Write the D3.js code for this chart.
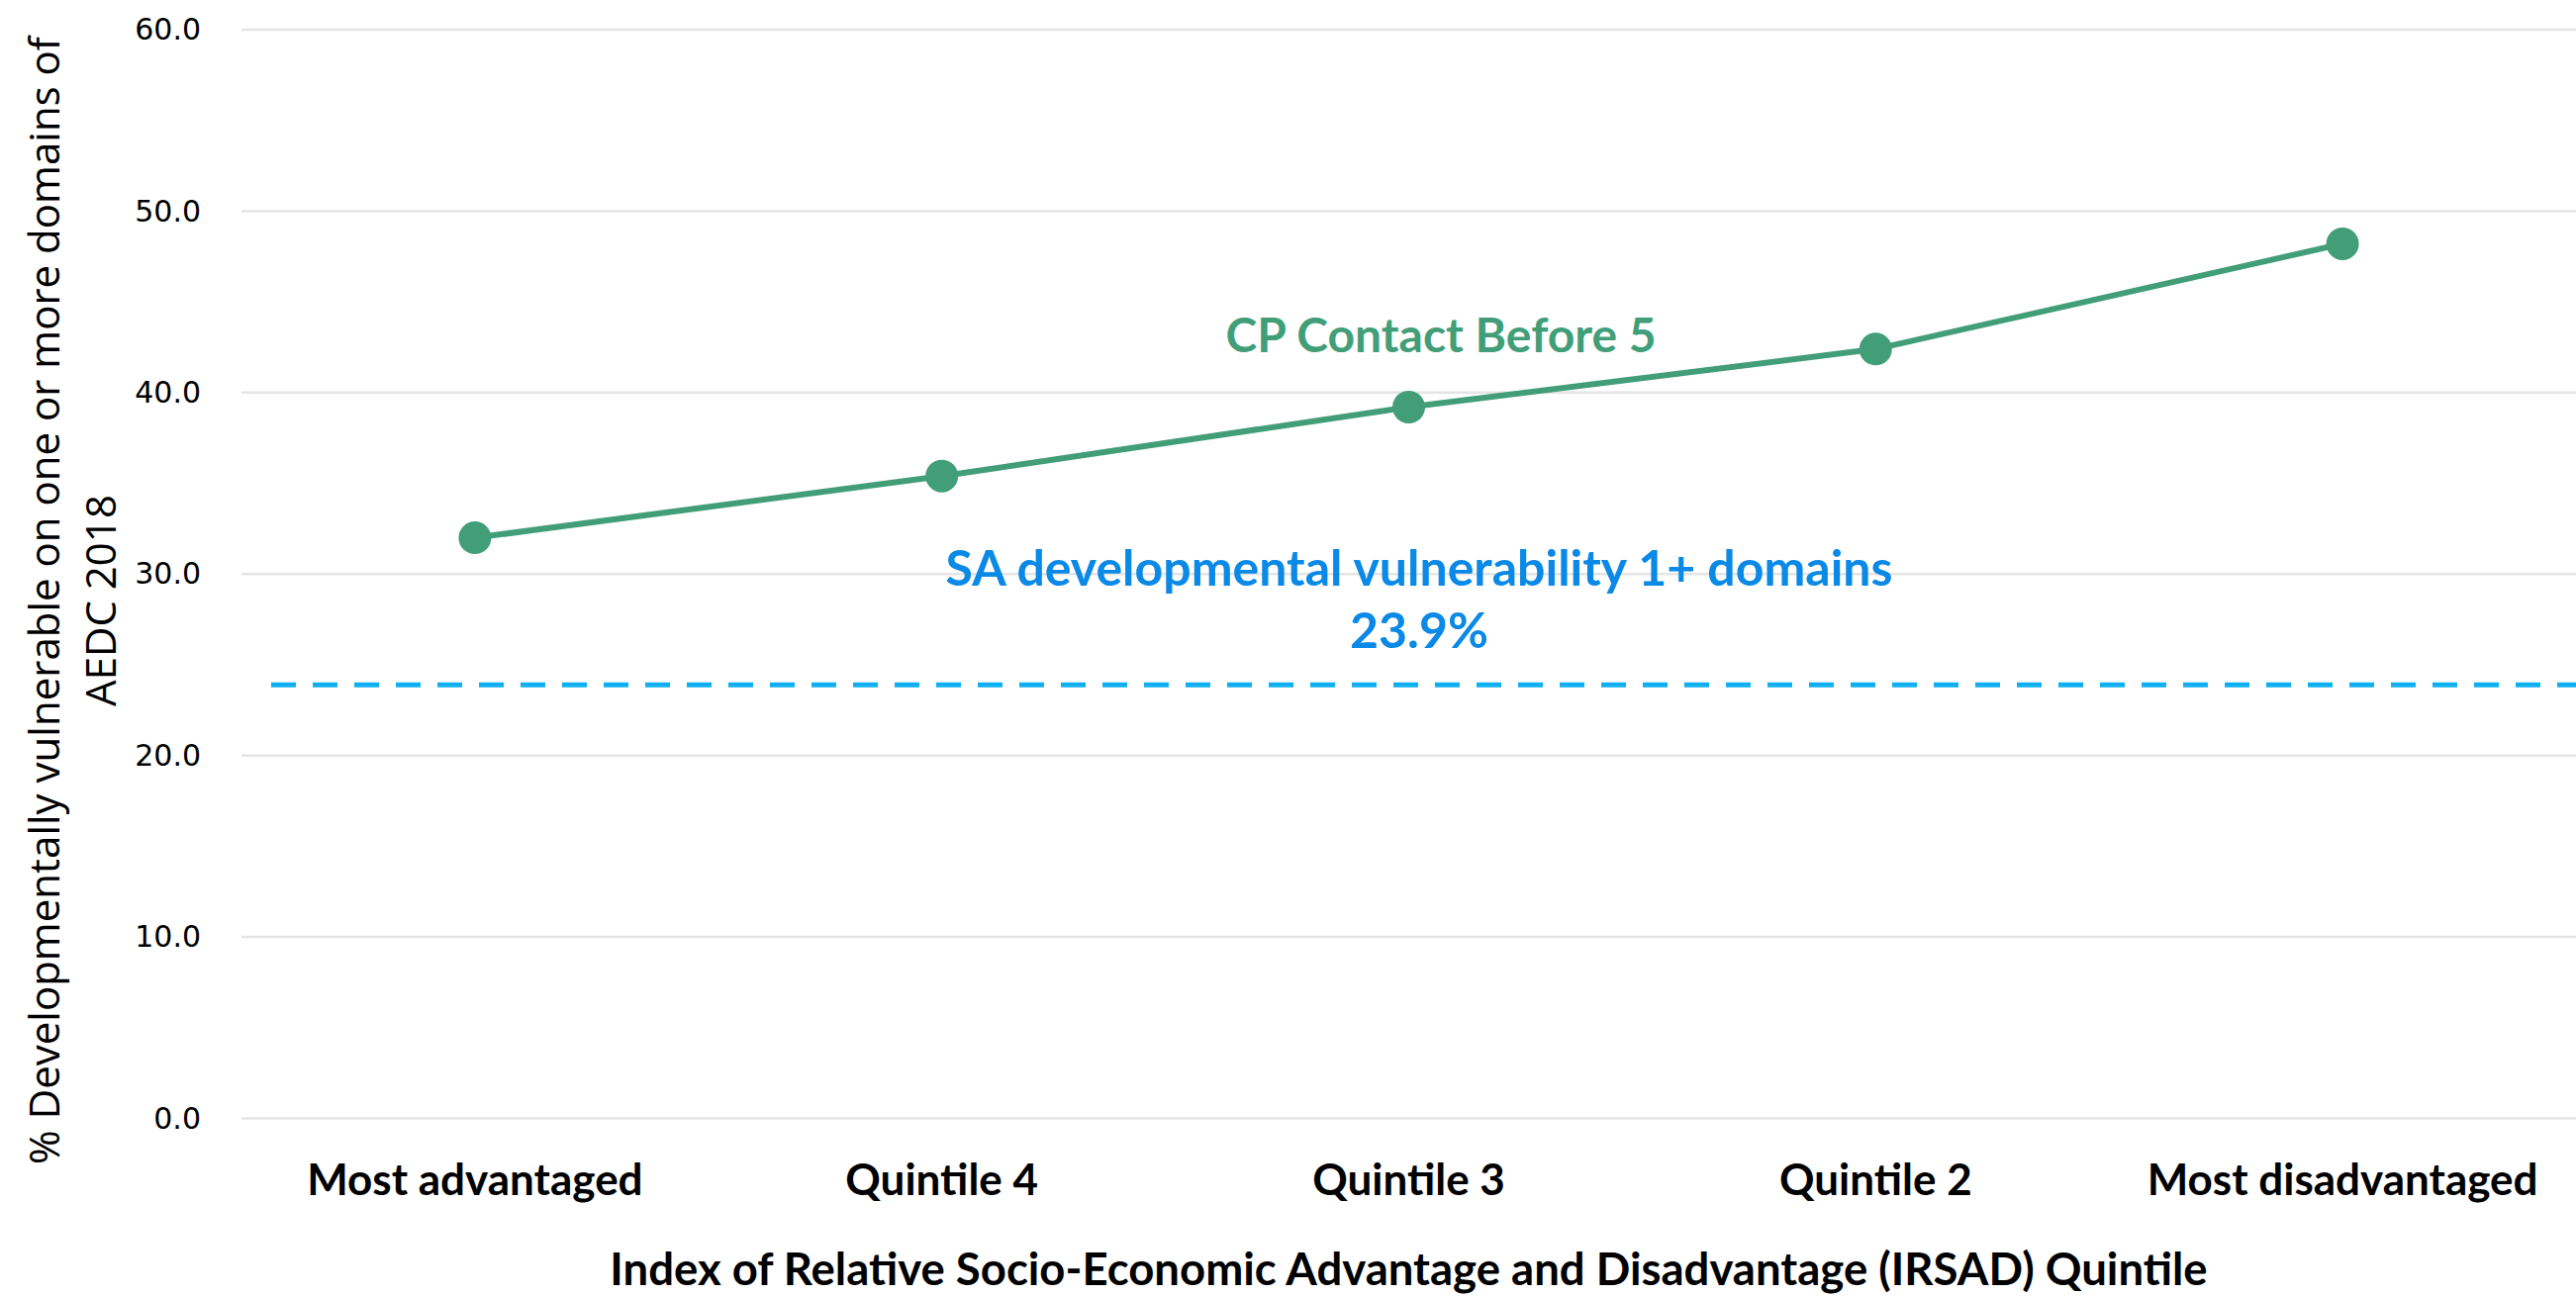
<!DOCTYPE html>
<html>
<head>
<meta charset="utf-8">
<script src="https://cdn.jsdelivr.net/npm/d3@7"></script>
<style>
  html, body { margin: 0; padding: 0; background: #fff; }
  svg { display: block; }
</style>
</head>
<body>
<script>
// chart data
const categories = ["Most advantaged", "Quintile 4", "Quintile 3", "Quintile 2", "Most disadvantaged"];
const cpValues = [32.0, 35.4, 39.2, 42.4, 48.2];
const refValue = 23.9;
const yTicks = [0, 10, 20, 30, 40, 50, 60];
const seriesName = "CP Contact Before 5";
const refLabel = ["SA developmental vulnerability 1+ domains", "23.9%"];
const yTitle = ["% Developmentally vulnerable on one or more domains of", "AEDC 2018"];
const xTitle = "Index of Relative Socio-Economic Advantage and Disadvantage (IRSAD) Quintile";

// sizes
const width = 2603;
const height = 1310;
const plot = { left: 244, right: 2603, top: 30, bottom: 1130.5 };

const green = "#429e78";
const blueText = "#0a89e6";
const blueDash = "#0fb0ef";
const boldFont = "Lato, 'Noto Sans', sans-serif";

const svg = d3.select("body").append("svg").attr("width", width).attr("height", height);

const x = d3.scaleBand().domain(categories).range([plot.left, plot.right]);
const y = d3.scaleLinear().domain([0, 60]).range([plot.bottom, plot.top]);
const cx = (d) => x(d) + x.bandwidth() / 2;

// gridlines
svg.append("g")
  .selectAll("line")
  .data(yTicks)
  .join("line")
  .attr("x1", plot.left)
  .attr("x2", plot.right)
  .attr("y1", (d) => y(d))
  .attr("y2", (d) => y(d))
  .attr("stroke", "#e4e4e4")
  .attr("stroke-width", 2.5);

// y axis labels
const yAxis = svg.append("g")
  .attr("transform", `translate(${plot.left},0)`)
  .call(d3.axisLeft(y).tickValues(yTicks).tickFormat(d3.format(".1f")).tickSize(0).tickPadding(41));
yAxis.select(".domain").remove();
yAxis.selectAll("text")
  .attr("font-family", "'DejaVu Sans', sans-serif")
  .attr("font-size", 30)
  .attr("fill", "#000");

// x axis labels
const xAxis = svg.append("g")
  .attr("transform", `translate(0,${plot.bottom})`)
  .call(d3.axisBottom(x).tickSize(0).tickPadding(0));
xAxis.select(".domain").remove();
xAxis.selectAll("text")
  .attr("dy", null)
  .attr("y", 1208 - plot.bottom)
  .attr("font-family", boldFont)
  .attr("font-weight", "bold")
  .attr("font-size", 44)
  .attr("fill", "#000");

// y title
const yt = svg.append("text")
  .attr("transform", `translate(60,607) rotate(-90)`)
  .attr("text-anchor", "middle")
  .attr("font-family", "'Open Sans', sans-serif")
  .attr("font-size", 42)
  .attr("fill", "#000");
yt.selectAll("tspan")
  .data(yTitle)
  .join("tspan")
  .attr("x", 0)
  .attr("dy", (d, i) => (i === 0 ? 0 : 57))
  .text((d) => d);

// x title
svg.append("text")
  .attr("x", (plot.left + plot.right) / 2)
  .attr("y", 1299)
  .attr("text-anchor", "middle")
  .attr("font-family", boldFont)
  .attr("font-weight", "bold")
  .attr("font-size", 45.5)
  .attr("fill", "#000")
  .text(xTitle);

// reference dashed line
svg.append("line")
  .attr("x1", 274)
  .attr("x2", plot.right)
  .attr("y1", y(refValue))
  .attr("y2", y(refValue))
  .attr("stroke", blueDash)
  .attr("stroke-width", 5)
  .attr("stroke-dasharray", "25,17");

// series line
const line = d3.line()
  .x((d, i) => cx(categories[i]))
  .y((d) => y(d));

svg.append("path")
  .datum(cpValues)
  .attr("fill", "none")
  .attr("stroke", green)
  .attr("stroke-width", 6)
  .attr("d", line);

svg.append("g")
  .selectAll("circle")
  .data(cpValues)
  .join("circle")
  .attr("cx", (d, i) => cx(categories[i]))
  .attr("cy", (d) => y(d))
  .attr("r", 16.5)
  .attr("fill", green);

// series label
svg.append("text")
  .attr("x", 1456)
  .attr("y", 356)
  .attr("text-anchor", "middle")
  .attr("font-family", boldFont)
  .attr("font-weight", "bold")
  .attr("font-size", 48)
  .attr("fill", green)
  .text(seriesName);

// reference label
svg.append("g")
  .selectAll("text")
  .data(refLabel)
  .join("text")
  .attr("x", 1434)
  .attr("y", (d, i) => 592 + i * 63)
  .attr("text-anchor", "middle")
  .attr("font-family", boldFont)
  .attr("font-weight", "bold")
  .attr("font-size", 50)
  .attr("fill", blueText)
  .text((d) => d);
</script>
</body>
</html>
